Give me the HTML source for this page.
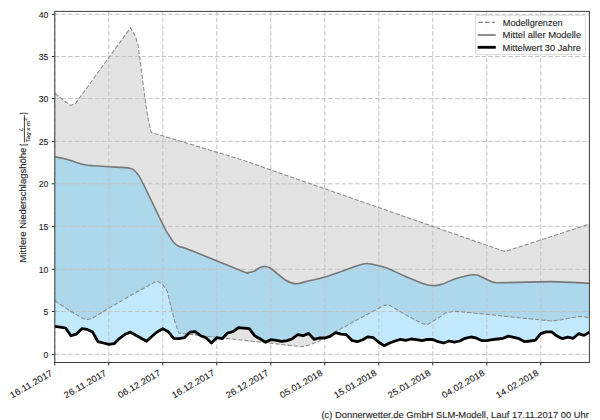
<!DOCTYPE html>
<html><head><meta charset="utf-8"><style>html,body{margin:0;padding:0;background:#fff;}svg{display:block;} text{stroke:#222;stroke-width:0.1px;}</style></head>
<body><svg width="600" height="420" viewBox="0 0 600 420">
<rect width="600" height="420" fill="#fff"/>
<polygon points="54.80,93.40 70.50,105.50 75.50,103.50 130.50,27.80 135.50,36.50 138.00,45.00 139.50,56.00 146.25,107.50 148.30,120.00 151.30,132.50 162.50,135.80 240.00,159.20 505.00,251.60 589.40,224.10 589.40,317.70 582.90,316.60 577.50,316.60 561.40,319.80 551.80,321.10 540.00,319.80 520.00,317.90 486.70,314.30 460.00,311.70 453.30,311.30 445.30,313.00 440.00,317.00 435.00,320.00 427.50,324.50 422.50,323.75 406.00,315.00 390.00,305.50 385.00,305.00 366.00,315.00 355.00,321.00 335.00,332.00 319.00,341.00 309.70,345.00 301.70,346.70 280.00,344.30 206.70,336.25 185.80,333.75 181.00,333.60 178.60,332.80 175.00,322.00 171.50,309.00 167.30,291.40 162.50,284.20 157.00,281.00 129.00,296.30 108.30,308.50 92.30,318.30 87.50,319.50 83.30,318.70 70.00,310.80 54.80,300.80" fill="#e3e3e3"/>
<defs><clipPath id="cg"><polygon points="54.80,93.40 70.50,105.50 75.50,103.50 130.50,27.80 135.50,36.50 138.00,45.00 139.50,56.00 146.25,107.50 148.30,120.00 151.30,132.50 162.50,135.80 240.00,159.20 505.00,251.60 589.40,224.10 589.40,317.70 582.90,316.60 577.50,316.60 561.40,319.80 551.80,321.10 540.00,319.80 520.00,317.90 486.70,314.30 460.00,311.70 453.30,311.30 445.30,313.00 440.00,317.00 435.00,320.00 427.50,324.50 422.50,323.75 406.00,315.00 390.00,305.50 385.00,305.00 366.00,315.00 355.00,321.00 335.00,332.00 319.00,341.00 309.70,345.00 301.70,346.70 280.00,344.30 206.70,336.25 185.80,333.75 181.00,333.60 178.60,332.80 175.00,322.00 171.50,309.00 167.30,291.40 162.50,284.20 157.00,281.00 129.00,296.30 108.30,308.50 92.30,318.30 87.50,319.50 83.30,318.70 70.00,310.80 54.80,300.80"/></clipPath></defs>
<path d="M54.80,156.75 C56.50,157.08 61.63,157.88 65.00,158.75 C68.37,159.62 71.67,161.00 75.00,162.00 C78.33,163.00 81.88,164.12 85.00,164.75 C88.12,165.38 89.79,165.42 93.75,165.75 C97.71,166.08 102.71,166.33 108.75,166.75 C114.79,167.17 125.42,167.29 130.00,168.25 C134.58,169.21 134.17,170.12 136.25,172.50 C138.33,174.88 137.92,173.54 142.50,182.50 C147.08,191.46 159.38,217.50 163.75,226.25 C168.12,235.00 167.08,232.29 168.75,235.00 C170.42,237.71 172.08,240.62 173.75,242.50 C175.42,244.38 176.04,245.00 178.75,246.25 C181.46,247.50 179.38,245.83 190.00,250.00 C200.62,254.17 232.92,267.50 242.50,271.25 C252.08,275.00 245.62,272.50 247.50,272.50 C249.38,272.50 251.67,272.08 253.75,271.25 C255.83,270.42 258.12,268.29 260.00,267.50 C261.88,266.71 263.12,266.29 265.00,266.50 C266.88,266.71 267.71,266.42 271.25,268.75 C274.79,271.08 282.08,278.00 286.25,280.50 C290.42,283.00 292.29,283.75 296.25,283.75 C300.21,283.75 305.21,281.62 310.00,280.50 C314.79,279.38 316.46,279.65 325.00,277.00 C333.54,274.35 353.96,266.80 361.25,264.60 C368.54,262.40 366.46,263.77 368.75,263.80 C371.04,263.83 371.88,264.06 375.00,264.80 C378.12,265.54 382.50,266.34 387.50,268.25 C392.50,270.16 398.75,273.59 405.00,276.25 C411.25,278.91 419.97,282.64 425.00,284.20 C430.03,285.76 432.20,285.65 435.20,285.60 C438.20,285.55 439.62,285.03 443.00,283.90 C446.38,282.77 450.58,280.32 455.50,278.80 C460.42,277.28 468.48,275.28 472.50,274.80 C476.52,274.32 476.77,274.92 479.60,275.90 C482.43,276.88 486.67,279.57 489.50,280.70 C492.33,281.83 492.35,282.42 496.60,282.70 C500.85,282.98 505.80,282.58 515.00,282.40 C524.20,282.22 539.40,281.45 551.80,281.60 C564.20,281.75 583.13,283.02 589.40,283.30 L589.40,332.10 L584.00,335.40 L578.60,333.70 L573.20,338.30 L567.80,337.20 L562.40,338.70 L557.00,336.10 L551.60,331.80 L546.20,331.80 L540.80,333.60 L535.40,340.10 L530.00,341.00 L524.60,341.70 L519.20,338.70 L513.80,337.30 L508.40,336.10 L503.00,338.30 L497.60,339.00 L492.20,339.70 L486.80,340.60 L481.40,340.60 L476.00,337.90 L470.60,337.00 L465.20,338.30 L459.80,341.00 L454.40,342.10 L449.00,341.00 L443.60,343.00 L438.20,341.70 L432.80,339.50 L427.40,339.30 L422.00,340.60 L416.60,339.70 L411.20,339.00 L405.80,340.30 L400.40,339.30 L395.00,341.00 L389.60,343.00 L384.20,345.70 L378.80,342.30 L373.40,337.70 L368.00,336.80 L362.60,339.70 L357.20,341.70 L351.80,340.30 L346.40,334.60 L341.00,334.10 L335.60,332.70 L330.20,336.30 L324.80,338.00 L319.40,338.00 L314.00,339.30 L308.60,333.40 L303.20,335.70 L297.80,334.70 L292.40,338.70 L287.00,340.60 L281.60,341.30 L276.20,340.30 L270.80,339.70 L265.40,342.10 L260.00,338.70 L254.60,335.70 L249.20,328.70 L243.80,328.10 L238.40,327.70 L233.00,331.70 L227.60,333.00 L222.20,338.70 L216.80,337.70 L211.40,343.00 L206.00,337.70 L200.60,335.70 L195.20,331.70 L189.80,332.10 L184.40,337.70 L179.00,338.70 L173.60,338.30 L168.20,331.70 L162.80,328.70 L157.40,331.70 L152.00,336.30 L146.60,341.30 L141.20,338.30 L135.80,335.20 L130.40,332.10 L125.00,334.30 L119.60,338.30 L114.20,343.70 L108.80,344.30 L103.40,343.00 L98.00,341.70 L92.60,332.10 L87.20,329.40 L81.80,328.70 L76.40,334.10 L71.00,335.70 L65.60,328.10 L60.20,327.20 L54.80,326.30 Z" fill="#c1e8fb"/>
<path d="M54.80,156.75 C56.50,157.08 61.63,157.88 65.00,158.75 C68.37,159.62 71.67,161.00 75.00,162.00 C78.33,163.00 81.88,164.12 85.00,164.75 C88.12,165.38 89.79,165.42 93.75,165.75 C97.71,166.08 102.71,166.33 108.75,166.75 C114.79,167.17 125.42,167.29 130.00,168.25 C134.58,169.21 134.17,170.12 136.25,172.50 C138.33,174.88 137.92,173.54 142.50,182.50 C147.08,191.46 159.38,217.50 163.75,226.25 C168.12,235.00 167.08,232.29 168.75,235.00 C170.42,237.71 172.08,240.62 173.75,242.50 C175.42,244.38 176.04,245.00 178.75,246.25 C181.46,247.50 179.38,245.83 190.00,250.00 C200.62,254.17 232.92,267.50 242.50,271.25 C252.08,275.00 245.62,272.50 247.50,272.50 C249.38,272.50 251.67,272.08 253.75,271.25 C255.83,270.42 258.12,268.29 260.00,267.50 C261.88,266.71 263.12,266.29 265.00,266.50 C266.88,266.71 267.71,266.42 271.25,268.75 C274.79,271.08 282.08,278.00 286.25,280.50 C290.42,283.00 292.29,283.75 296.25,283.75 C300.21,283.75 305.21,281.62 310.00,280.50 C314.79,279.38 316.46,279.65 325.00,277.00 C333.54,274.35 353.96,266.80 361.25,264.60 C368.54,262.40 366.46,263.77 368.75,263.80 C371.04,263.83 371.88,264.06 375.00,264.80 C378.12,265.54 382.50,266.34 387.50,268.25 C392.50,270.16 398.75,273.59 405.00,276.25 C411.25,278.91 419.97,282.64 425.00,284.20 C430.03,285.76 432.20,285.65 435.20,285.60 C438.20,285.55 439.62,285.03 443.00,283.90 C446.38,282.77 450.58,280.32 455.50,278.80 C460.42,277.28 468.48,275.28 472.50,274.80 C476.52,274.32 476.77,274.92 479.60,275.90 C482.43,276.88 486.67,279.57 489.50,280.70 C492.33,281.83 492.35,282.42 496.60,282.70 C500.85,282.98 505.80,282.58 515.00,282.40 C524.20,282.22 539.40,281.45 551.80,281.60 C564.20,281.75 583.13,283.02 589.40,283.30 L589.40,332.10 L584.00,335.40 L578.60,333.70 L573.20,338.30 L567.80,337.20 L562.40,338.70 L557.00,336.10 L551.60,331.80 L546.20,331.80 L540.80,333.60 L535.40,340.10 L530.00,341.00 L524.60,341.70 L519.20,338.70 L513.80,337.30 L508.40,336.10 L503.00,338.30 L497.60,339.00 L492.20,339.70 L486.80,340.60 L481.40,340.60 L476.00,337.90 L470.60,337.00 L465.20,338.30 L459.80,341.00 L454.40,342.10 L449.00,341.00 L443.60,343.00 L438.20,341.70 L432.80,339.50 L427.40,339.30 L422.00,340.60 L416.60,339.70 L411.20,339.00 L405.80,340.30 L400.40,339.30 L395.00,341.00 L389.60,343.00 L384.20,345.70 L378.80,342.30 L373.40,337.70 L368.00,336.80 L362.60,339.70 L357.20,341.70 L351.80,340.30 L346.40,334.60 L341.00,334.10 L335.60,332.70 L330.20,336.30 L324.80,338.00 L319.40,338.00 L314.00,339.30 L308.60,333.40 L303.20,335.70 L297.80,334.70 L292.40,338.70 L287.00,340.60 L281.60,341.30 L276.20,340.30 L270.80,339.70 L265.40,342.10 L260.00,338.70 L254.60,335.70 L249.20,328.70 L243.80,328.10 L238.40,327.70 L233.00,331.70 L227.60,333.00 L222.20,338.70 L216.80,337.70 L211.40,343.00 L206.00,337.70 L200.60,335.70 L195.20,331.70 L189.80,332.10 L184.40,337.70 L179.00,338.70 L173.60,338.30 L168.20,331.70 L162.80,328.70 L157.40,331.70 L152.00,336.30 L146.60,341.30 L141.20,338.30 L135.80,335.20 L130.40,332.10 L125.00,334.30 L119.60,338.30 L114.20,343.70 L108.80,344.30 L103.40,343.00 L98.00,341.70 L92.60,332.10 L87.20,329.40 L81.80,328.70 L76.40,334.10 L71.00,335.70 L65.60,328.10 L60.20,327.20 L54.80,326.30 Z" fill="#add7eb" clip-path="url(#cg)"/>
<g stroke="#c4c4c4" stroke-width="1" stroke-dasharray="4.6 2.07" fill="none"><line x1="54.8" y1="14.3" x2="589.4" y2="14.3"/><line x1="54.8" y1="56.5" x2="589.4" y2="56.5"/><line x1="54.8" y1="98.6" x2="589.4" y2="98.6"/><line x1="54.8" y1="141.4" x2="589.4" y2="141.4"/><line x1="54.8" y1="183.8" x2="589.4" y2="183.8"/><line x1="54.8" y1="226.4" x2="589.4" y2="226.4"/><line x1="54.8" y1="269.3" x2="589.4" y2="269.3"/><line x1="54.8" y1="311.5" x2="589.4" y2="311.5"/><line x1="54.8" y1="354.4" x2="589.4" y2="354.4"/><line x1="54.80" y1="362.5" x2="54.80" y2="11.4"/><line x1="108.80" y1="362.5" x2="108.80" y2="11.4"/><line x1="162.80" y1="362.5" x2="162.80" y2="11.4"/><line x1="216.80" y1="362.5" x2="216.80" y2="11.4"/><line x1="270.80" y1="362.5" x2="270.80" y2="11.4"/><line x1="324.80" y1="362.5" x2="324.80" y2="11.4"/><line x1="378.80" y1="362.5" x2="378.80" y2="11.4"/><line x1="432.80" y1="362.5" x2="432.80" y2="11.4"/><line x1="486.80" y1="362.5" x2="486.80" y2="11.4"/><line x1="540.80" y1="362.5" x2="540.80" y2="11.4"/></g>
<polyline points="54.80,93.40 70.50,105.50 75.50,103.50 130.50,27.80 135.50,36.50 138.00,45.00 139.50,56.00 146.25,107.50 148.30,120.00 151.30,132.50 162.50,135.80 240.00,159.20 505.00,251.60 589.40,224.10" fill="none" stroke="#8a8a8a" stroke-width="1.05" stroke-dasharray="4.3 1.9"/>
<polyline points="54.80,300.80 70.00,310.80 83.30,318.70 87.50,319.50 92.30,318.30 108.30,308.50 129.00,296.30 157.00,281.00 162.50,284.20 167.30,291.40 171.50,309.00 175.00,322.00 178.60,332.80 181.00,333.60 185.80,333.75 206.70,336.25 280.00,344.30 301.70,346.70 309.70,345.00 319.00,341.00 335.00,332.00 355.00,321.00 366.00,315.00 385.00,305.00 390.00,305.50 406.00,315.00 422.50,323.75 427.50,324.50 435.00,320.00 440.00,317.00 445.30,313.00 453.30,311.30 460.00,311.70 486.70,314.30 520.00,317.90 540.00,319.80 551.80,321.10 561.40,319.80 577.50,316.60 582.90,316.60 589.40,317.70" fill="none" stroke="#8a8a8a" stroke-width="1.05" stroke-dasharray="4.3 1.9"/>
<path d="M54.80,156.75 C56.50,157.08 61.63,157.88 65.00,158.75 C68.37,159.62 71.67,161.00 75.00,162.00 C78.33,163.00 81.88,164.12 85.00,164.75 C88.12,165.38 89.79,165.42 93.75,165.75 C97.71,166.08 102.71,166.33 108.75,166.75 C114.79,167.17 125.42,167.29 130.00,168.25 C134.58,169.21 134.17,170.12 136.25,172.50 C138.33,174.88 137.92,173.54 142.50,182.50 C147.08,191.46 159.38,217.50 163.75,226.25 C168.12,235.00 167.08,232.29 168.75,235.00 C170.42,237.71 172.08,240.62 173.75,242.50 C175.42,244.38 176.04,245.00 178.75,246.25 C181.46,247.50 179.38,245.83 190.00,250.00 C200.62,254.17 232.92,267.50 242.50,271.25 C252.08,275.00 245.62,272.50 247.50,272.50 C249.38,272.50 251.67,272.08 253.75,271.25 C255.83,270.42 258.12,268.29 260.00,267.50 C261.88,266.71 263.12,266.29 265.00,266.50 C266.88,266.71 267.71,266.42 271.25,268.75 C274.79,271.08 282.08,278.00 286.25,280.50 C290.42,283.00 292.29,283.75 296.25,283.75 C300.21,283.75 305.21,281.62 310.00,280.50 C314.79,279.38 316.46,279.65 325.00,277.00 C333.54,274.35 353.96,266.80 361.25,264.60 C368.54,262.40 366.46,263.77 368.75,263.80 C371.04,263.83 371.88,264.06 375.00,264.80 C378.12,265.54 382.50,266.34 387.50,268.25 C392.50,270.16 398.75,273.59 405.00,276.25 C411.25,278.91 419.97,282.64 425.00,284.20 C430.03,285.76 432.20,285.65 435.20,285.60 C438.20,285.55 439.62,285.03 443.00,283.90 C446.38,282.77 450.58,280.32 455.50,278.80 C460.42,277.28 468.48,275.28 472.50,274.80 C476.52,274.32 476.77,274.92 479.60,275.90 C482.43,276.88 486.67,279.57 489.50,280.70 C492.33,281.83 492.35,282.42 496.60,282.70 C500.85,282.98 505.80,282.58 515.00,282.40 C524.20,282.22 539.40,281.45 551.80,281.60 C564.20,281.75 583.13,283.02 589.40,283.30" fill="none" stroke="#777" stroke-width="1.6" stroke-linejoin="round"/>
<polyline points="54.80,326.30 60.20,327.20 65.60,328.10 71.00,335.70 76.40,334.10 81.80,328.70 87.20,329.40 92.60,332.10 98.00,341.70 103.40,343.00 108.80,344.30 114.20,343.70 119.60,338.30 125.00,334.30 130.40,332.10 135.80,335.20 141.20,338.30 146.60,341.30 152.00,336.30 157.40,331.70 162.80,328.70 168.20,331.70 173.60,338.30 179.00,338.70 184.40,337.70 189.80,332.10 195.20,331.70 200.60,335.70 206.00,337.70 211.40,343.00 216.80,337.70 222.20,338.70 227.60,333.00 233.00,331.70 238.40,327.70 243.80,328.10 249.20,328.70 254.60,335.70 260.00,338.70 265.40,342.10 270.80,339.70 276.20,340.30 281.60,341.30 287.00,340.60 292.40,338.70 297.80,334.70 303.20,335.70 308.60,333.40 314.00,339.30 319.40,338.00 324.80,338.00 330.20,336.30 335.60,332.70 341.00,334.10 346.40,334.60 351.80,340.30 357.20,341.70 362.60,339.70 368.00,336.80 373.40,337.70 378.80,342.30 384.20,345.70 389.60,343.00 395.00,341.00 400.40,339.30 405.80,340.30 411.20,339.00 416.60,339.70 422.00,340.60 427.40,339.30 432.80,339.50 438.20,341.70 443.60,343.00 449.00,341.00 454.40,342.10 459.80,341.00 465.20,338.30 470.60,337.00 476.00,337.90 481.40,340.60 486.80,340.60 492.20,339.70 497.60,339.00 503.00,338.30 508.40,336.10 513.80,337.30 519.20,338.70 524.60,341.70 530.00,341.00 535.40,340.10 540.80,333.60 546.20,331.80 551.60,331.80 557.00,336.10 562.40,338.70 567.80,337.20 573.20,338.30 578.60,333.70 584.00,335.40 589.40,332.10" fill="none" stroke="#000" stroke-width="2.8" stroke-linejoin="round"/>
<rect x="54.8" y="11.4" width="534.60" height="351.10" fill="none" stroke="#3a3a3a" stroke-width="1"/>
<g stroke="#333" stroke-width="1"><line x1="51.8" y1="14.3" x2="54.8" y2="14.3"/><line x1="51.8" y1="56.5" x2="54.8" y2="56.5"/><line x1="51.8" y1="98.6" x2="54.8" y2="98.6"/><line x1="51.8" y1="141.4" x2="54.8" y2="141.4"/><line x1="51.8" y1="183.8" x2="54.8" y2="183.8"/><line x1="51.8" y1="226.4" x2="54.8" y2="226.4"/><line x1="51.8" y1="269.3" x2="54.8" y2="269.3"/><line x1="51.8" y1="311.5" x2="54.8" y2="311.5"/><line x1="51.8" y1="354.4" x2="54.8" y2="354.4"/><line x1="54.80" y1="362.5" x2="54.80" y2="365.5"/><line x1="108.80" y1="362.5" x2="108.80" y2="365.5"/><line x1="162.80" y1="362.5" x2="162.80" y2="365.5"/><line x1="216.80" y1="362.5" x2="216.80" y2="365.5"/><line x1="270.80" y1="362.5" x2="270.80" y2="365.5"/><line x1="324.80" y1="362.5" x2="324.80" y2="365.5"/><line x1="378.80" y1="362.5" x2="378.80" y2="365.5"/><line x1="432.80" y1="362.5" x2="432.80" y2="365.5"/><line x1="486.80" y1="362.5" x2="486.80" y2="365.5"/><line x1="540.80" y1="362.5" x2="540.80" y2="365.5"/></g>
<g font-family='"Liberation Sans", sans-serif' font-size="8.8" fill="#222"><text x="48.4" y="17.70" text-anchor="end" textLength="9.67" lengthAdjust="spacingAndGlyphs">40</text><text x="48.4" y="59.90" text-anchor="end" textLength="9.67" lengthAdjust="spacingAndGlyphs">35</text><text x="48.4" y="102.00" text-anchor="end" textLength="9.67" lengthAdjust="spacingAndGlyphs">30</text><text x="48.4" y="144.80" text-anchor="end" textLength="9.67" lengthAdjust="spacingAndGlyphs">25</text><text x="48.4" y="187.20" text-anchor="end" textLength="9.67" lengthAdjust="spacingAndGlyphs">20</text><text x="48.4" y="229.80" text-anchor="end" textLength="9.67" lengthAdjust="spacingAndGlyphs">15</text><text x="48.4" y="272.70" text-anchor="end" textLength="9.67" lengthAdjust="spacingAndGlyphs">10</text><text x="48.4" y="314.90" text-anchor="end" textLength="4.84" lengthAdjust="spacingAndGlyphs">5</text><text x="48.4" y="357.80" text-anchor="end" textLength="4.84" lengthAdjust="spacingAndGlyphs">0</text><text transform="translate(53.20,374.70) rotate(-30)" text-anchor="end" textLength="47.52" lengthAdjust="spacingAndGlyphs">16.11.2017</text><text transform="translate(107.20,374.70) rotate(-30)" text-anchor="end" textLength="47.52" lengthAdjust="spacingAndGlyphs">26.11.2017</text><text transform="translate(161.20,374.70) rotate(-30)" text-anchor="end" textLength="47.52" lengthAdjust="spacingAndGlyphs">06.12.2017</text><text transform="translate(215.20,374.70) rotate(-30)" text-anchor="end" textLength="47.52" lengthAdjust="spacingAndGlyphs">16.12.2017</text><text transform="translate(269.20,374.70) rotate(-30)" text-anchor="end" textLength="47.52" lengthAdjust="spacingAndGlyphs">26.12.2017</text><text transform="translate(323.20,374.70) rotate(-30)" text-anchor="end" textLength="47.52" lengthAdjust="spacingAndGlyphs">05.01.2018</text><text transform="translate(377.20,374.70) rotate(-30)" text-anchor="end" textLength="47.52" lengthAdjust="spacingAndGlyphs">15.01.2018</text><text transform="translate(431.20,374.70) rotate(-30)" text-anchor="end" textLength="47.52" lengthAdjust="spacingAndGlyphs">25.01.2018</text><text transform="translate(485.20,374.70) rotate(-30)" text-anchor="end" textLength="47.52" lengthAdjust="spacingAndGlyphs">04.02.2018</text><text transform="translate(539.20,374.70) rotate(-30)" text-anchor="end" textLength="47.52" lengthAdjust="spacingAndGlyphs">14.02.2018</text></g>
<g font-family='"Liberation Sans", sans-serif' fill="#111"><text transform="translate(26.0,262.4) rotate(-90)" font-size="8.8" textLength="114.65" lengthAdjust="spacingAndGlyphs">Mittlere Niederschlagshöhe </text><text transform="translate(23.0,131.0) rotate(-90)" font-size="6" font-style="italic">L</text><text transform="translate(29.7,142.4) rotate(-90)" font-size="6.2" font-style="italic" textLength="21.6" lengthAdjust="spacingAndGlyphs">Tag x m</text><text transform="translate(26.8,120.6) rotate(-90)" font-size="4.2" font-style="italic">2</text></g>
<path d="M20.1,114.3 V113.3 H27.4 V114.3 M20.1,144.0 V145.0 H27.4 V144.0 M24.4,115.2 V142.5" fill="none" stroke="#222" stroke-width="0.85"/>
<rect x="475.6" y="15.4" width="109.8" height="39.2" rx="1.5" fill="#fff" fill-opacity="0.85" stroke="#d0d0d0" stroke-width="0.8"/>
<line x1="478.2" y1="22.3" x2="495.0" y2="22.3" stroke="#808080" stroke-width="1.15" stroke-dasharray="4.65 2.1"/>
<line x1="477.6" y1="35.0" x2="495.8" y2="35.0" stroke="#7c7c7c" stroke-width="1.7"/>
<line x1="477.6" y1="47.3" x2="495.8" y2="47.3" stroke="#000" stroke-width="2.8"/>
<g font-family='"Liberation Sans", sans-serif' font-size="8.8" fill="#222"><text x="502.8" y="25.9" textLength="59.8" lengthAdjust="spacingAndGlyphs">Modellgrenzen</text><text x="502.6" y="38.4" textLength="78.6" lengthAdjust="spacingAndGlyphs">Mittel aller Modelle</text><text x="502.6" y="50.9" textLength="78.3" lengthAdjust="spacingAndGlyphs">Mittelwert 30 Jahre</text></g>
<text x="321.5" y="417.8" font-family='"Liberation Sans", sans-serif' font-size="8.8" fill="#222" textLength="267.3" lengthAdjust="spacingAndGlyphs">(c) Donnerwetter.de GmbH SLM-Modell, Lauf 17.11.2017 00 Uhr</text>
</svg></body></html>
